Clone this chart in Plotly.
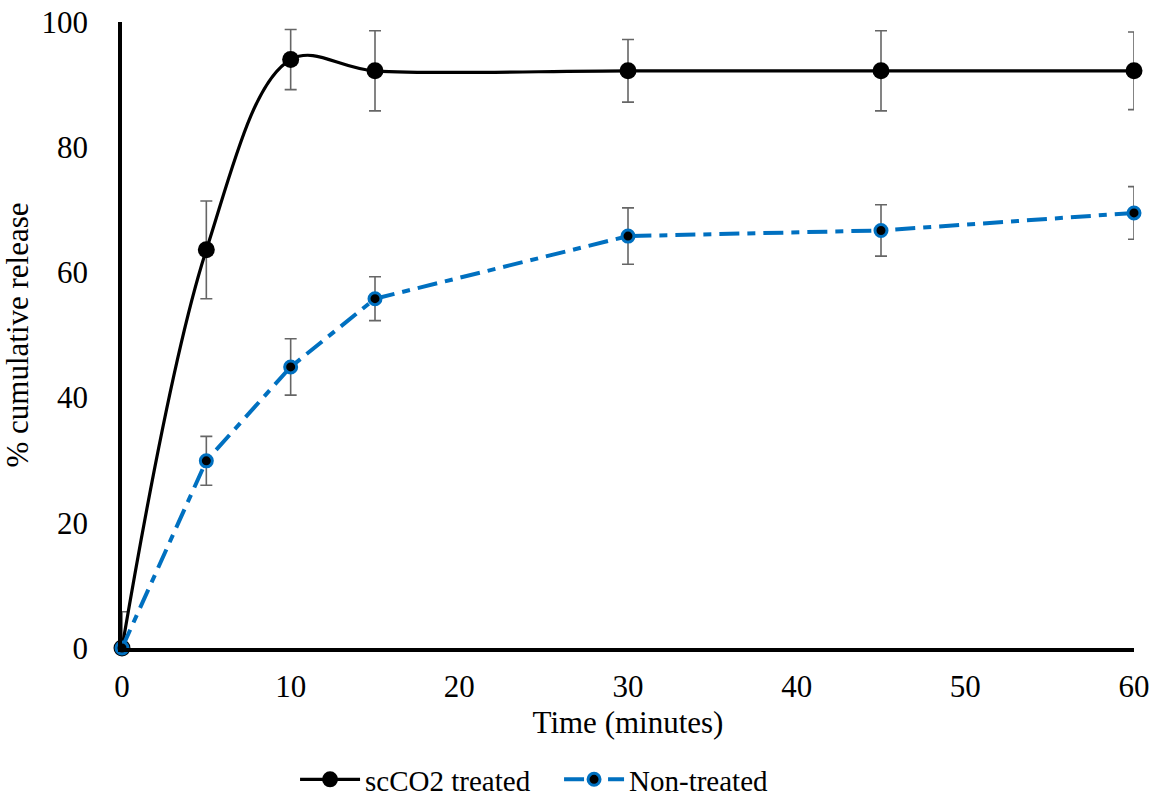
import plotly.graph_objects as go

time_min = [0, 5, 10, 15, 30, 45, 60]
treated = [0, 63.6, 94.0, 92.2, 92.2, 92.2, 92.2]
treated_err = [5.8, 7.8, 4.8, 6.4, 5.0, 6.4, 6.2]
non_treated = [0, 29.9, 44.9, 55.8, 65.8, 66.7, 69.5]
non_treated_err = [0, 3.9, 4.5, 3.5, 4.5, 4.1, 4.2]

FONT = "Liberation Serif"
FS = 31
ERR_COLOR = "#666666"
BLUE = "#0070C0"

fig = go.Figure()
fig.add_trace(go.Scatter(
    x=time_min, y=treated, name="scCO2 treated", mode="lines+markers",
    line=dict(color="black", width=3.2, shape="spline", smoothing=1.0),
    marker=dict(color="black", size=17),
    error_y=dict(type="data", array=treated_err, visible=True,
                 color=ERR_COLOR, thickness=1.6, width=6),
    cliponaxis=False,
))
fig.add_trace(go.Scatter(
    x=time_min, y=non_treated, name="Non-treated", mode="lines+markers",
    line=dict(color=BLUE, width=4, dash="20px,8px,8px,8px"),
    marker=dict(color="black", size=12, line=dict(color=BLUE, width=3)),
    error_y=dict(type="data", array=non_treated_err, visible=True,
                 color=ERR_COLOR, thickness=1.6, width=6),
    cliponaxis=False,
))

fig.update_layout(
    width=1162, height=803,
    margin=dict(l=122, r=28, t=22, b=155, autoexpand=False),
    paper_bgcolor="white", plot_bgcolor="white",
    font=dict(family=FONT, size=FS, color="black"),
    showlegend=True,
    legend=dict(orientation="h", x=0.171, xanchor="left", y=-0.21, yanchor="middle",
                font=dict(family=FONT, size=29), itemwidth=60,
                entrywidth=189, entrywidthmode="pixels"),
    xaxis=dict(range=[0, 60], tickvals=[0, 10, 20, 30, 40, 50, 60],
               showgrid=False, zeroline=False, showline=True, linecolor="black",
               linewidth=3.5, ticks="", ticklabelstandoff=8, automargin=True,
               title=dict(text="Time (minutes)", standoff=9,
                          font=dict(family=FONT, size=FS))),
    yaxis=dict(range=[0, 100], tickvals=[0, 20, 40, 60, 80, 100],
               showgrid=False, zeroline=False, showline=True, linecolor="black",
               linewidth=3.5, ticks="", ticklabelstandoff=24, automargin=True,
               title=dict(text="% cumulative release", standoff=7,
                          font=dict(family=FONT, size=FS))),
)

fig.write_html("out.html", config={"displayModeBar": False},
               post_script="document.body.style.margin='0px';")
